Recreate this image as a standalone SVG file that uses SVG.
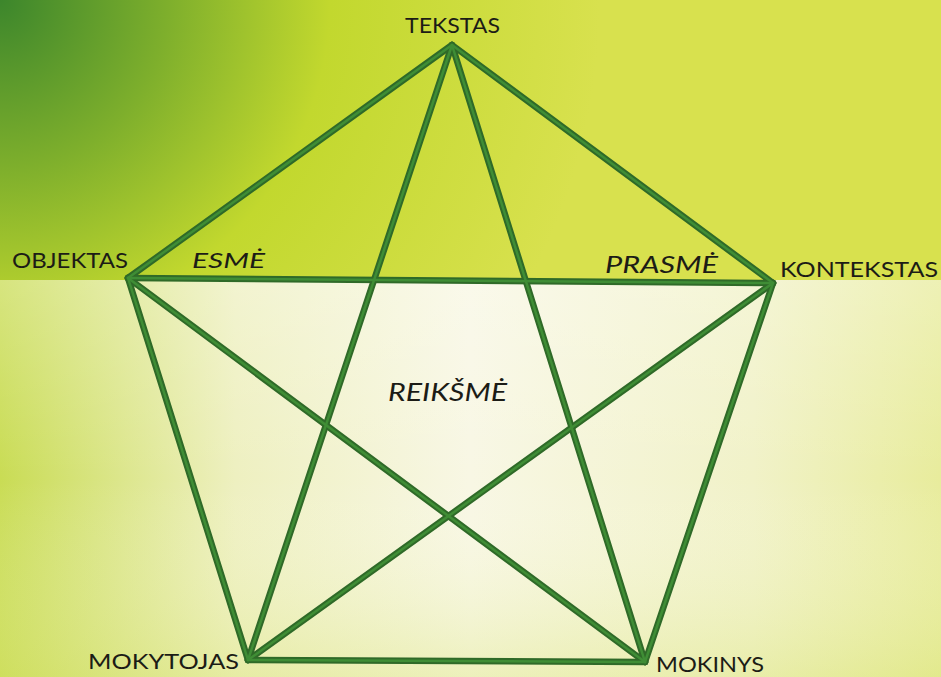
<svg xmlns="http://www.w3.org/2000/svg" width="941" height="677" viewBox="0 0 941 677">
  <style>
    .lbl { font-family: "Lato", "Open Sans", "Liberation Sans", sans-serif; fill: #1c1c16; }
    .it { font-style: italic; }
    .edge-o { stroke: #2f6a28; stroke-width: 6.5; stroke-linecap: round; fill: none; }
    .edge-i { stroke: #3f8d35; stroke-width: 2.5; stroke-linecap: round; fill: none; }
  </style>
  <defs>
    <radialGradient id="topGrad" cx="0" cy="0" r="600" gradientUnits="userSpaceOnUse">
      <stop offset="0" stop-color="#3c862c"/>
      <stop offset="0.28" stop-color="#7eaf2c"/>
      <stop offset="0.55" stop-color="#c2d82e"/>
      <stop offset="1" stop-color="#d8e14e"/>
    </radialGradient>
    <linearGradient id="botBase" x1="0" y1="0" x2="1" y2="0">
      <stop offset="0" stop-color="#c9dc54"/>
      <stop offset="0.25" stop-color="#eef0c0"/>
      <stop offset="0.5" stop-color="#f8f7e4"/>
      <stop offset="0.8" stop-color="#f1f2c8"/>
      <stop offset="1" stop-color="#e8ec9c"/>
    </linearGradient>
    <linearGradient id="botFade" x1="0" y1="0" x2="0" y2="1">
      <stop offset="0" stop-color="#ffffff" stop-opacity="0.25"/>
      <stop offset="0.5" stop-color="#ffffff" stop-opacity="0"/>
      <stop offset="1" stop-color="#d8e470" stop-opacity="0.35"/>
    </linearGradient>
  </defs>

  <rect x="0" y="0" width="941" height="677" fill="url(#botBase)"/>
  <rect x="0" y="280" width="941" height="397" fill="url(#botFade)"/>
  <rect x="0" y="0" width="941" height="280" fill="url(#topGrad)"/>

  <g id="connectors">
    <g id="lines-outer" class="edge-o">
      <line x1="452" y1="45" x2="128" y2="278"/>
      <line x1="452" y1="45" x2="773" y2="283"/>
      <line x1="128" y1="278" x2="248" y2="660"/>
      <line x1="773" y1="283" x2="645" y2="662"/>
      <line x1="248" y1="660" x2="645" y2="662"/>
      <line x1="128" y1="278" x2="773" y2="283"/>
      <line x1="452" y1="45" x2="248" y2="660"/>
      <line x1="452" y1="45" x2="645" y2="662"/>
      <line x1="128" y1="278" x2="645" y2="662"/>
      <line x1="773" y1="283" x2="248" y2="660"/>
    </g>
    <g id="lines-inner" class="edge-i">
      <line x1="452" y1="45" x2="128" y2="278"/>
      <line x1="452" y1="45" x2="773" y2="283"/>
      <line x1="128" y1="278" x2="248" y2="660"/>
      <line x1="773" y1="283" x2="645" y2="662"/>
      <line x1="248" y1="660" x2="645" y2="662"/>
      <line x1="128" y1="278" x2="773" y2="283"/>
      <line x1="452" y1="45" x2="248" y2="660"/>
      <line x1="452" y1="45" x2="645" y2="662"/>
      <line x1="128" y1="278" x2="645" y2="662"/>
      <line x1="773" y1="283" x2="248" y2="660"/>
    </g>
  </g>

  <g id="node-tekstas">
    <text class="lbl" x="405" y="33" font-size="22" textLength="95" lengthAdjust="spacingAndGlyphs">TEKSTAS</text>
  </g>
  <g id="node-objektas">
    <text class="lbl" x="12" y="268" font-size="21" textLength="116" lengthAdjust="spacingAndGlyphs">OBJEKTAS</text>
  </g>
  <g id="node-kontekstas">
    <text class="lbl" x="780" y="277" font-size="21" textLength="158" lengthAdjust="spacingAndGlyphs">KONTEKSTAS</text>
  </g>
  <g id="node-mokytojas">
    <text class="lbl" x="88" y="669" font-size="22" textLength="151" lengthAdjust="spacingAndGlyphs">MOKYTOJAS</text>
  </g>
  <g id="node-mokinys">
    <text class="lbl" x="656" y="672" font-size="21" textLength="108" lengthAdjust="spacingAndGlyphs">MOKINYS</text>
  </g>
  <g id="label-esme">
    <text class="lbl it" x="192" y="268" font-size="22" textLength="73" lengthAdjust="spacingAndGlyphs">ESMĖ</text>
  </g>
  <g id="label-prasme">
    <text class="lbl it" x="605" y="273" font-size="24" textLength="113" lengthAdjust="spacingAndGlyphs">PRASMĖ</text>
  </g>
  <g id="label-reiksme">
    <text class="lbl it" x="388" y="401" font-size="25" textLength="119" lengthAdjust="spacingAndGlyphs">REIKŠMĖ</text>
  </g>
</svg>
